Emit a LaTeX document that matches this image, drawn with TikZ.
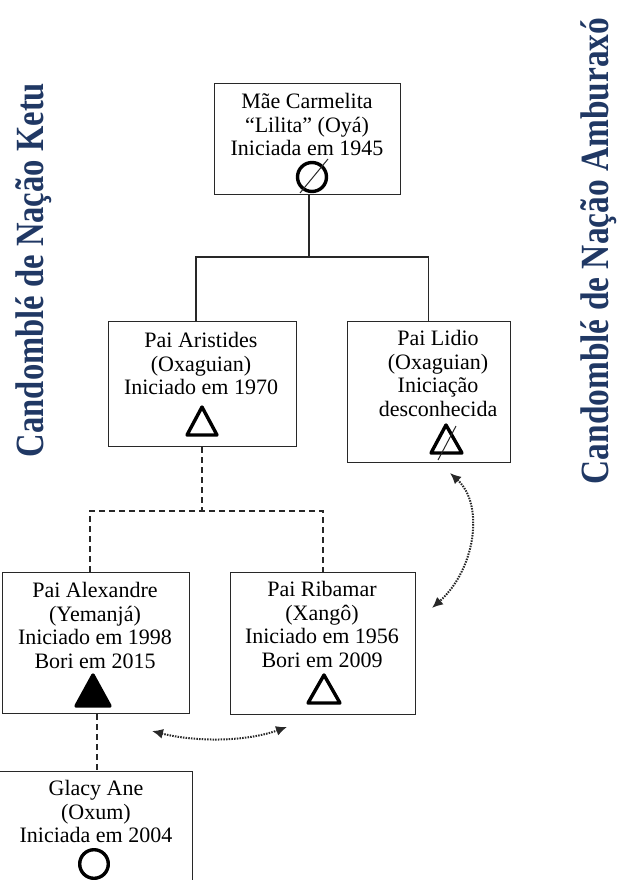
\documentclass[tikz,border=0pt]{standalone}
\usepackage{fontspec}
\setmainfont{Liberation Serif}
\usetikzlibrary{arrows.meta}
\definecolor{navy}{RGB}{32,56,100}
\definecolor{edge}{RGB}{40,40,40}
\begin{document}
\begin{tikzpicture}[x=1pt,y=-1pt,
  pbox/.style={draw=edge, line width=1.3pt, anchor=north west, inner sep=0pt},
  txt/.style={anchor=north, inner sep=0pt, align=center, text=black,
              font=\fontsize{22}{23.6}\selectfont},
  conn/.style={draw=edge, line width=1.3pt},
  dashconn/.style={draw=edge, line width=1.4pt, dash pattern=on 6pt off 4pt},
  dotarrow/.style={draw=edge, line width=2pt, dash pattern=on 1.5pt off 1.2pt,
                   {Latex[length=11pt,width=10pt]}-{Latex[length=11pt,width=10pt]}},
  sym/.style={draw=black, line width=3.4pt, line join=round},
  slash/.style={draw=edge, line width=1pt},
  side/.style={rotate=90, anchor=base, inner sep=0pt, text=navy,
               font=\fontsize{40}{44}\selectfont\bfseries}
]
\useasboundingbox (0,0) rectangle (618,880);

% side titles
\node[side] (ketu) at (43,270) {\scalebox{0.815}[1]{Candomblé de Nação Ketu}};
\node[side] (ambu) at (608,251) {\scalebox{0.835}[1]{Candomblé de Nação Amburaxó}};

% person boxes
\node[pbox, minimum width=186, minimum height=111] (mae) at (214,83) {};
\node[pbox, minimum width=188, minimum height=125] (arist) at (108,321) {};
\node[pbox, minimum width=163, minimum height=141] (lidio) at (347,321) {};
\node[pbox, minimum width=187, minimum height=141] (alex) at (2,572) {};
\node[pbox, minimum width=185, minimum height=142] (riba) at (230,572) {};
\node[pbox, minimum width=195, minimum height=140] (glacy) at (-3,771) {};

% texts
\node[txt] (mae-t) at (307,93) {Mãe Carmelita\\“Lilita” (Oyá)\\Iniciada em 1945};
\node[txt] (arist-t) at (201,332) {Pai Aristides\\(Oxaguian)\\Iniciado em 1970};
\node[txt] (lidio-t) at (438,330) {Pai Lidio\\(Oxaguian)\\Iniciação\\desconhecida};
\node[txt] (alex-t) at (95,582) {Pai Alexandre\\(Yemanjá)\\Iniciado em 1998\\Bori em 2015};
\node[txt] (riba-t) at (322,581) {Pai Ribamar\\(Xangô)\\Iniciado em 1956\\Bori em 2009};
\node[txt] (glacy-t) at (96,780) {Glacy Ane\\(Oxum)\\Iniciada em 2004};

% symbols
\draw[sym] (312,177) circle (14.5);
\draw[slash] (300,193) -- (328,159);
\draw[sym] (187,435) -- (202,407) -- (217,435) -- cycle;
\draw[sym] (431,453) -- (446,425) -- (462,453) -- cycle;
\draw[slash] (438,460) -- (456,426);
\draw[sym, fill=black] (76,706) -- (93,675) -- (110,706) -- cycle;
\draw[sym] (308,703) -- (324,675) -- (340,703) -- cycle;
\draw[sym] (94,864) circle (14.3);

% solid lineage
\coordinate (tj) at (309,257);
\coordinate (tl) at (196,257);
\coordinate (tr) at (428.5,257);
\draw[conn] (mae.south -| tj) -- (tj);
\draw[conn] (arist.north -| tl) -- (tl) -- (tr) -- (lidio.north -| tr);

% dashed lineage
\coordinate (bj) at (202,511);
\coordinate (bl) at (90,511);
\coordinate (br) at (323,511);
\coordinate (gx) at (97,740);
\draw[dashconn] (arist.south -| bj) -- (bj);
\draw[dashconn] (alex.north -| bl) -- (bl) -- (br) -- (riba.north -| br);
\draw[dashconn] (alex.south -| gx) -- (glacy.north -| gx);

% dotted relations
\coordinate (la) at (450,473);
\coordinate (rb) at (432,608);
\draw[dotarrow] (la) .. controls (485,505) and (475,570) .. (rb);
\coordinate (al) at (152,731);
\coordinate (ar) at (287,727);
\draw[dotarrow] (al) .. controls (195,742) and (245,742) .. (ar);
\end{tikzpicture}
\end{document}
